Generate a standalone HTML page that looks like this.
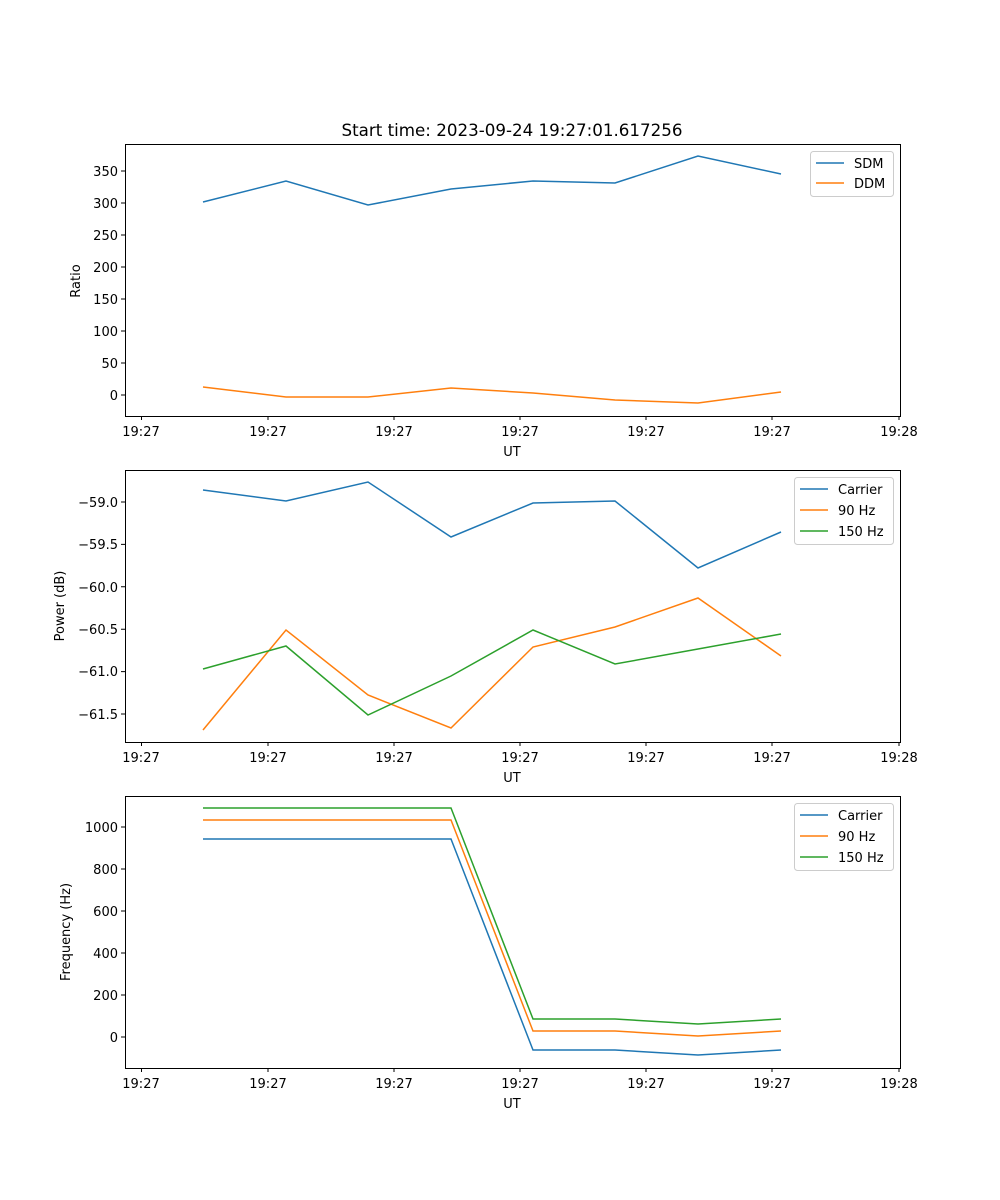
<!DOCTYPE html>
<html><head><meta charset="utf-8"><style>body{margin:0;background:#fff}svg{display:block}text{font-family:"DejaVu Sans","Liberation Sans",sans-serif;font-size:13px;fill:#000}</style></head><body>
<svg width="1000" height="1200" xmlns="http://www.w3.org/2000/svg">
<rect width="1000" height="1200" fill="#fff"/>
<text x="512" y="136" text-anchor="middle" style="font-size:16.7px">Start time: 2023-09-24 19:27:01.617256</text>

<g stroke="#000" stroke-width="1" fill="none">
<rect x="125.5" y="144.5" width="775" height="272"/>
<rect x="125.5" y="470.5" width="775" height="272"/>
<rect x="125.5" y="796.5" width="775" height="272"/>
</g>
<g stroke="#000">
<path d="M141.5 416v4M268 416v4M394 416v4M520 416v4M646 416v4M772 416v4M899 416v4"/>
<path d="M141.5 742v4M268 742v4M394 742v4M520 742v4M646 742v4M772 742v4M899 742v4"/>
<path d="M141.5 1068v4M268 1068v4M394 1068v4M520 1068v4M646 1068v4M772 1068v4M899 1068v4"/>
<path d="M125 171h-4M125 203h-4M125 235h-4M125 267h-4M125 299h-4M125 331h-4M125 363h-4M125 395h-4"/>
<path d="M125 502h-4M125 544.4h-4M125 586.8h-4M125 629.2h-4M125 671.6h-4M125 714h-4"/>
<path d="M125 827h-4M125 869h-4M125 911h-4M125 953h-4M125 995h-4M125 1037h-4"/>
</g>
<g text-anchor="middle">
<text x="141" y="436">19:27</text><text x="268" y="436">19:27</text><text x="394" y="436">19:27</text><text x="520" y="436">19:27</text><text x="646" y="436">19:27</text><text x="772" y="436">19:27</text><text x="899" y="436">19:28</text>
<text x="512" y="456">UT</text>
<text x="141" y="762">19:27</text><text x="268" y="762">19:27</text><text x="394" y="762">19:27</text><text x="520" y="762">19:27</text><text x="646" y="762">19:27</text><text x="772" y="762">19:27</text><text x="899" y="762">19:28</text>
<text x="512" y="782">UT</text>
<text x="141" y="1088">19:27</text><text x="268" y="1088">19:27</text><text x="394" y="1088">19:27</text><text x="520" y="1088">19:27</text><text x="646" y="1088">19:27</text><text x="772" y="1088">19:27</text><text x="899" y="1088">19:28</text>
<text x="512" y="1108">UT</text>
</g>
<g text-anchor="end">
<text x="118" y="176">350</text><text x="118" y="208">300</text><text x="118" y="240">250</text><text x="118" y="272">200</text><text x="118" y="304">150</text><text x="118" y="336">100</text><text x="118" y="368">50</text><text x="118" y="400">0</text>
<text x="118" y="507">−59.0</text><text x="118" y="549">−59.5</text><text x="118" y="592">−60.0</text><text x="118" y="634">−60.5</text><text x="118" y="676">−61.0</text><text x="118" y="719">−61.5</text>
<text x="118" y="832">1000</text><text x="118" y="874">800</text><text x="118" y="916">600</text><text x="118" y="958">400</text><text x="118" y="1000">200</text><text x="118" y="1042">0</text>
</g>
<text transform="translate(80 281) rotate(-90)" text-anchor="middle">Ratio</text>
<text transform="translate(64 606) rotate(-90)" text-anchor="middle">Power (dB)</text>
<text transform="translate(70 932) rotate(-90)" text-anchor="middle">Frequency (Hz)</text>

<g fill="none" stroke-width="1.5">
<polyline stroke="#1f77b4" points="203,202 286,181 368,205 451,189 533,181 615,183 698,156 781,174"/>
<polyline stroke="#ff7f0e" points="203,387 286,397 368,397 451,388 533,393 615,400 698,403 781,392"/>
<polyline stroke="#1f77b4" points="203,490 286,501 368,482 451,537 533,503 615,501 698,568 781,532"/>
<polyline stroke="#ff7f0e" points="203,730 286,630 368,695 451,728 533,647 615,627 698,598 781,656"/>
<polyline stroke="#2ca02c" points="203,669 286,646 368,715 451,676 533,630 615,664 698,649 781,634"/>
<polyline stroke="#1f77b4" points="203,839 286,839 368,839 451,839 533,1050 615,1050 698,1055 781,1050"/>
<polyline stroke="#ff7f0e" points="203,820 286,820 368,820 451,820 533,1031 615,1031 698,1036 781,1031"/>
<polyline stroke="#2ca02c" points="203,808 286,808 368,808 451,808 533,1019 615,1019 698,1024 781,1019"/>
</g>

<rect x="810.5" y="151.5" width="83" height="45" rx="3" fill="#fff" stroke="#ccc"/>
<path d="M816 163h28" stroke="#1f77b4" stroke-width="1.5"/><text x="854" y="168">SDM</text>
<path d="M816 183h28" stroke="#ff7f0e" stroke-width="1.5"/><text x="854" y="188">DDM</text>

<rect x="794.5" y="477.5" width="99" height="67" rx="3" fill="#fff" stroke="#ccc"/>
<path d="M800 489h28" stroke="#1f77b4" stroke-width="1.5"/><text x="838" y="494">Carrier</text>
<path d="M800 510h28" stroke="#ff7f0e" stroke-width="1.5"/><text x="838" y="515">90 Hz</text>
<path d="M800 531h28" stroke="#2ca02c" stroke-width="1.5"/><text x="838" y="536">150 Hz</text>

<rect x="794.5" y="803.5" width="99" height="67" rx="3" fill="#fff" stroke="#ccc"/>
<path d="M800 815h28" stroke="#1f77b4" stroke-width="1.5"/><text x="838" y="820">Carrier</text>
<path d="M800 836h28" stroke="#ff7f0e" stroke-width="1.5"/><text x="838" y="841">90 Hz</text>
<path d="M800 857h28" stroke="#2ca02c" stroke-width="1.5"/><text x="838" y="862">150 Hz</text>
</svg>
</body></html>
